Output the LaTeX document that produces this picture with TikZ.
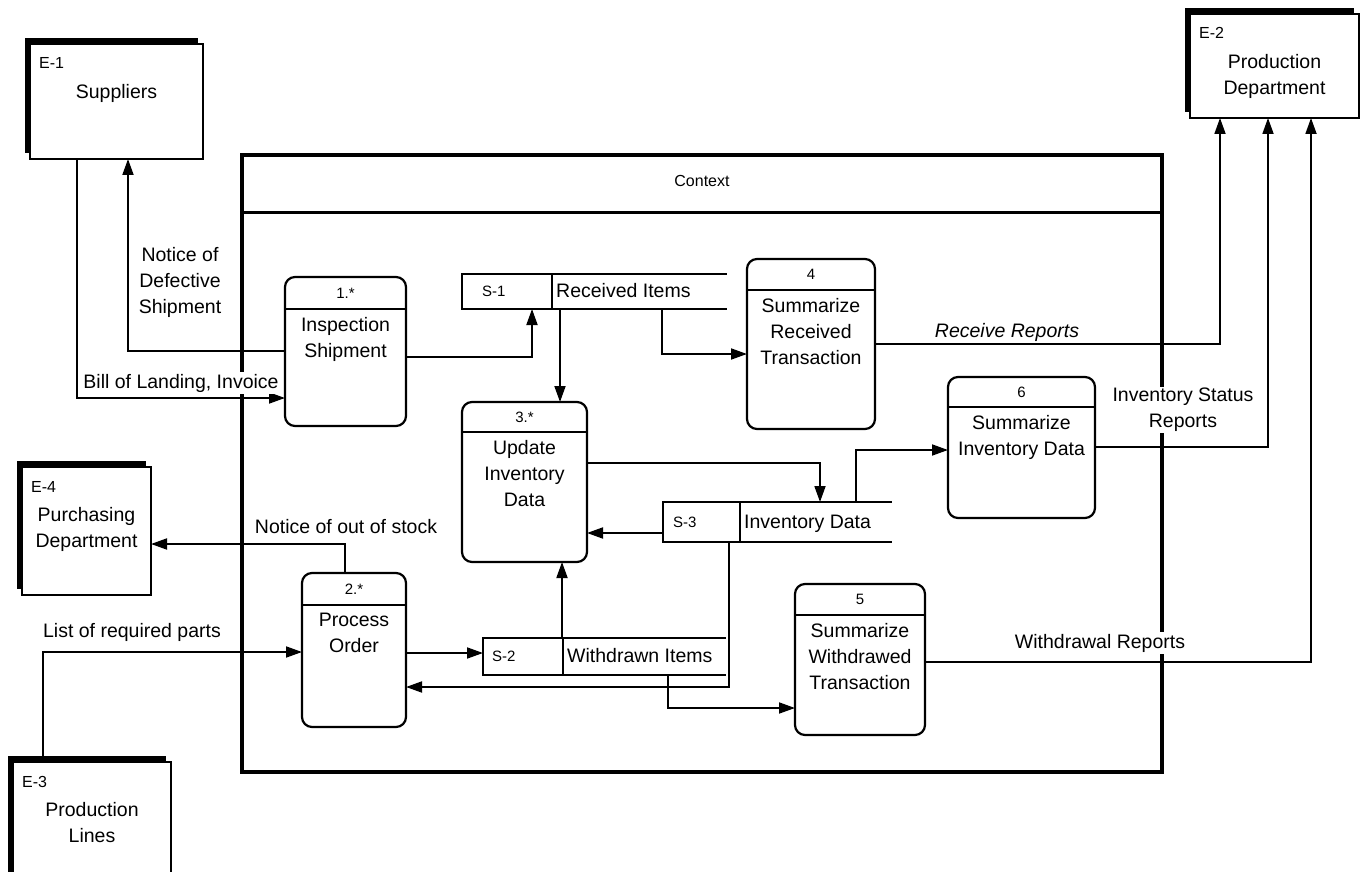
\documentclass[tikz,border=0pt]{standalone}
\usepackage{fontspec}
\setmainfont{Liberation Sans}
\usetikzlibrary{arrows.meta,shapes.misc,shadows}

% process bubble: name, x1, y1, x2, y2, divider y, id, text
\newcommand\dfdproc[8]{%
  \node[proc, minimum width={(#4-#2)*1pt}, minimum height={(#5-#3)*1pt}] (#1) at ({(#2+#4)/2},{(#3+#5)/2}) {};
  \draw[procline] (#1.west |- 0,#6) -- (#1.east |- 0,#6);
  \node[pid] (#1id) at ({(#2+#4)/2},{(#3+#6)/2}) {#7};
  \node[lbl, anchor=north] (#1txt) at ({(#2+#4)/2},{#6+8}) {#8};
}
% external entity: name, x1, y1, x2, y2, id, text
\newcommand\dfdent[7]{%
  \node[ent, minimum width={(#4-#2)*1pt}, minimum height={(#5-#3)*1pt}] (#1) at ({(#2+#4)/2},{(#3+#5)/2}) {};
  \node[eid, anchor=base west] (#1id) at ({#2+9},{#3+25}) {#6};
  \node[lbl, anchor=north] (#1txt) at ({(#2+#4)/2},{#3+40}) {#7};
}
% data store: name, x1, y1, divider x, x2, y2, id, text, id offset
\newcommand\dfdstore[9]{%
  \node[storeid, minimum width={(#4-#2)*1pt}, minimum height={(#6-#3)*1pt}] (#1id) at ({(#2+#4)/2},{(#3+#6)/2}) {};
  \node[storebox, minimum width={(#5-#2)*1pt}, minimum height={(#6-#3)*1pt}] (#1) at ({(#2+#5)/2},{(#3+#6)/2}) {};
  \draw[storeline] (#1id.north east) -- (#1.north east) (#1id.south east) -- (#1.south east);
  \node[sid, anchor=base west] (#1idtxt) at ({#2+#9},{(#3+#6)/2+5}) {#7};
  \node[lbl, anchor=base west] (#1txt) at ({#4+4},{(#3+#6)/2+6}) {#8};
}

\begin{document}
\begin{tikzpicture}[x=1pt, y=-1pt,
  lbl/.style={inner sep=0pt, align=center, font=\fontsize{19.5}{26}\selectfont},
  flowlbl/.style={lbl},
  gaplbl/.style={lbl, fill=white, inner sep=1.5pt},
  pid/.style={inner sep=0pt, font=\fontsize{15}{17}\selectfont},
  eid/.style={inner sep=0pt, font=\fontsize{16}{18}\selectfont},
  sid/.style={inner sep=0pt, font=\fontsize{15}{17}\selectfont},
  proc/.style={draw, line width=2.2pt, rounded corners=10pt, fill=white, inner sep=0pt, outer sep=0pt},
  procline/.style={line width=1.6pt},
  ent/.style={draw, line width=1.6pt, fill=white, inner sep=0pt, outer sep=0pt,
    general shadow={fill=black, shadow xshift=-5pt, shadow yshift=6pt}},
  storeid/.style={draw, line width=1.8pt, fill=white, inner sep=0pt, outer sep=0pt},
  storebox/.style={inner sep=0pt, outer sep=0pt},
  storeline/.style={line width=1.8pt},
  ctxbox/.style={draw, line width=3.2pt, chamfered rectangle, chamfered rectangle xsep=6pt,
    chamfered rectangle ysep=6pt, inner sep=0pt, outer sep=0pt},
  ctxline/.style={line width=3pt},
  flow/.style={line width=1.8pt, -{Triangle[length=16pt,width=11pt]}}
]
\clip (0,0) rectangle (1363,872);

% system boundary
\node[ctxbox, minimum width=920pt, minimum height=617pt] (ctx) at (702,463.5) {};
\draw[ctxline] (ctx.west |- 0,212) -- (ctx.east |- 0,212);
\node[inner sep=0pt, font=\fontsize{16}{18}\selectfont, anchor=base] (ctxlbl) at (702,186) {Context};

% external entities
\dfdent{e1}{30}{44}{203}{159}{E-1}{Suppliers}
\dfdent{e2}{1190}{14}{1359}{118}{E-2}{Production\\Department}
\dfdent{e3}{13}{762}{171}{920}{E-3}{Production\\Lines}
\dfdent{e4}{22}{467}{151}{595}{E-4}{Purchasing\\Department}

% processes
\dfdproc{p1}{285}{277}{406}{426}{309}{1.*}{Inspection\\Shipment}
\dfdproc{p2}{302}{573}{406}{727}{605}{2.*}{Process\\Order}
\dfdproc{p3}{462}{402}{587}{562}{432}{3.*}{Update\\Inventory\\Data}
\dfdproc{p4}{747}{259}{875}{429}{290}{4}{Summarize\\Received\\Transaction}
\dfdproc{p5}{795}{584}{925}{735}{615}{5}{Summarize\\Withdrawed\\Transaction}
\dfdproc{p6}{948}{377}{1095}{518}{407}{6}{Summarize\\Inventory Data}

% data stores
\dfdstore{s1}{462}{274}{552}{727}{309}{S-1}{Received Items}{20}
\dfdstore{s3}{663}{502}{740}{892}{542}{S-3}{Inventory Data}{10}
\dfdstore{s2}{483}{638}{563}{726}{675}{S-2}{Withdrawn Items}{9}

% bend points of the flows
\coordinate (c1) at (77,398);
\coordinate (c2) at (128,351);
\coordinate (c3) at (532,357);
\coordinate (c4) at (560,0);
\coordinate (c5) at (662,354);
\coordinate (c6) at (1220,344);
\coordinate (c7) at (820,463);
\coordinate (c8) at (0,533);
\coordinate (c9) at (856,450);
\coordinate (c10) at (1268,447);
\coordinate (c11) at (345,544);
\coordinate (c12) at (43,652);
\coordinate (c13) at (0,653);
\coordinate (c14) at (562,0);
\coordinate (c15) at (729,687);
\coordinate (c16) at (668,708);
\coordinate (c17) at (1311,662);

% data flows
\draw[flow] (e1.south -| c1) |- (p1.west |- c1);
\draw[flow] (p1.west |- c2) -| (e1.south -| c2);
\draw[flow] (p1.east |- c3) -| (s1.south -| c3);
\draw[flow] (s1.south -| c4) -- (p3.north -| c4);
\draw[flow] (s1.south -| c5) |- (p4.west |- c5);
\draw[flow] (p4.east |- c6) -| (e2.south -| c6);
\draw[flow] (p3.east |- c7) -| (s3.north -| c7);
\draw[flow] (s3.west |- c8) -- (p3.east |- c8);
\draw[flow] (s3.north -| c9) |- (p6.west |- c9);
\draw[flow] (p6.east |- c10) -| (e2.south -| c10);
\draw[flow] (p2.north -| c11) |- (e4.east |- c11);
\draw[flow] (e3.north -| c12) |- (p2.west |- c12);
\draw[flow] (p2.east |- c13) -- (s2.west |- c13);
\draw[flow] (s2.north -| c14) -- (p3.south -| c14);
\draw[flow] (s3.south -| c15) |- (p2.east |- c15);
\draw[flow] (s2.south -| c16) |- (p5.west |- c16);
\draw[flow] (p5.east |- c17) -| (e2.south -| c17);

% flow labels (the ones lying on the boundary blank it out behind them)
\node[gaplbl, anchor=base] (l1) at (181,388) {Bill of Landing, Invoice};
\node[flowlbl, anchor=north] (l2) at (180,247) {Notice of\\Defective\\Shipment};
\node[flowlbl, anchor=base, font=\fontsize{19.5}{26}\selectfont\itshape] (l3) at (1007,337) {Receive Reports};
\node[gaplbl, anchor=north] (l4) at (1183,386.5) {Inventory Status\\Reports};
\node[flowlbl, anchor=base] (l5) at (346,533) {Notice of out of stock};
\node[flowlbl, anchor=base] (l6) at (132,637) {List of required parts};
\node[gaplbl, anchor=base] (l7) at (1100,648) {Withdrawal Reports};
\end{tikzpicture}
\end{document}
